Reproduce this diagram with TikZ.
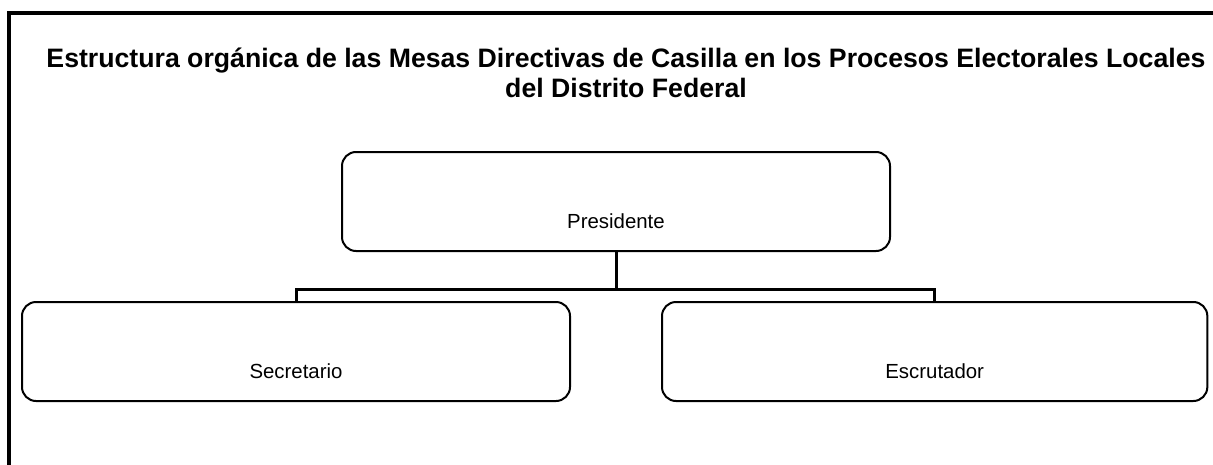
\documentclass[tikz,border=0pt]{standalone}
\usepackage{fontspec}
\setmainfont{Liberation Sans}
\usetikzlibrary{positioning}
\begin{document}
\begin{tikzpicture}[
x=0.75pt, y=-0.75pt,
cajanode/.style={rectangle, rounded corners=10.5pt, draw=black, line width=1.5pt, minimum width=411pt, minimum height=74.25pt, inner sep=0pt, text height=39.75pt, text depth=0pt, font=\fontsize{15.3}{18}\selectfont},
titulonode/.style={align=center, inner sep=0pt, font=\fontsize{20}{22.5}\selectfont\bfseries},
conector/.style={line width=2.25pt},
]
\useasboundingbox (0,0) rectangle (1213,464);
%Marco
\draw[line width=3pt] (9,480) -- (9,12.5) -- (1230,12.5);

%Nodes
\node[titulonode, anchor=base] (titulo) at (626,97) {Estructura orgánica de las Mesas Directivas de Casilla en los Procesos Electorales Locales\\del Distrito Federal};
\node[cajanode] (presidente) at (616,201.5) {Presidente};
\node[cajanode] (secretario) [below=36.75pt of presidente, xshift=-240pt] {Secretario};
\node[cajanode, minimum width=409pt] (escrutador) [below=36.75pt of presidente, xshift=239pt] {Escrutador};

%Lines
\draw[conector] (presidente.south) -- ++(0,37) coordinate (rama) -| (secretario.north);
\draw[conector] (rama) -| (escrutador.north);
\end{tikzpicture}
\end{document}
